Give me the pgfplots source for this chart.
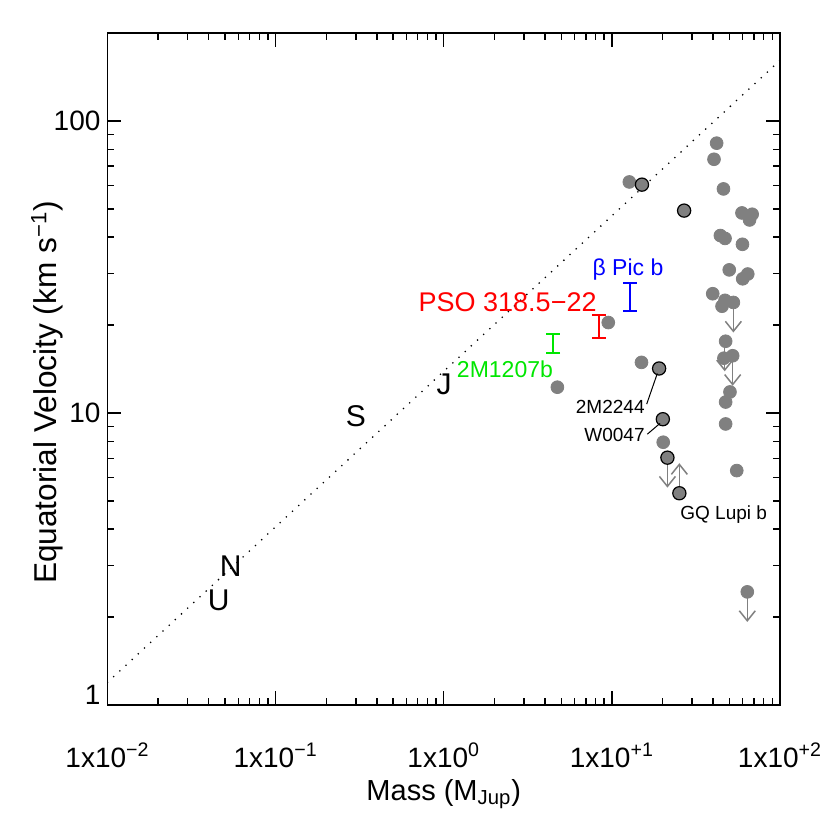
\documentclass[border=0pt]{standalone}
\usepackage{fontspec}
\setmainfont{Liberation Sans}
\usepackage{pgfplots}
\pgfplotsset{compat=1.18}
\usetikzlibrary{arrows.meta}
\definecolor{ptgray}{RGB}{128,128,128}
\definecolor{pgreen}{RGB}{0,230,0}

\begin{document}
\begin{tikzpicture}
\begin{axis}[
    scale only axis,
    clip mode=individual,
    width=336.25pt, height=336pt,
    xmode=log, ymode=log,
    xmin=0.01, xmax=100,
    ymin=1, ymax=200,
    xtick={0.01,0.1,1,10,100},
    xticklabels={1x10\textsuperscript{−2},1x10\textsuperscript{−1},1x10\textsuperscript{0},1x10\textsuperscript{+1},1x10\textsuperscript{+2}},
    minor xtick={0.02,0.03,0.04,0.05,0.06,0.07,0.08,0.09,0.2,0.3,0.4,0.5,0.6,0.7,0.8,0.9,2,3,4,5,6,7,8,9,20,30,40,50,60,70,80,90},
    ytick={1,10,100},
    yticklabels={,10,100},
    minor ytick={2,3,4,5,6,7,8,9,20,30,40,50,60,70,80,90},
    tick align=inside,
    xtick pos=both, ytick pos=both,
    major tick length=7pt, minor tick length=3.5pt,
    axis line style={line width=0.7pt},
    every tick/.style={black, line width=0.7pt},
    tick label style={font=\fontsize{14}{16}\selectfont},
    xticklabel style={anchor=base, yshift=-31pt},
    xlabel={Mass (M\textsubscript{Jup})},
    ylabel={Equatorial Velocity (km s\textsuperscript{−1})},
    xlabel style={font=\fontsize{14.5}{17}\selectfont, at={(axis description cs:0.5,-0.142)}, anchor=base},
    ylabel style={font=\fontsize{15.8}{18}\selectfont, at={(axis description cs:-0.0755,0.465)}, anchor=base},
]
\coordinate (bl) at (rel axis cs:0,0);
\coordinate (tr) at (rel axis cs:1,1);

% reference relation
\addplot[black, line width=0.9pt, line cap=round, dash pattern=on 0pt off 4.2pt]
    coordinates {(0.01,1.196) (100,161.2)};

% limits
\addplot[ptgray, line width=0.75pt, arrows={-Straight Barb[length=5pt,width=8pt]}] coordinates {(52.8,23.9) (52.8,18.86)};
\addplot[ptgray, line width=0.75pt, arrows={-Straight Barb[length=5pt,width=8pt]}] coordinates {(46.9,17.6) (46.9,13.89)};
\addplot[ptgray, line width=0.75pt, arrows={-Straight Barb[length=5pt,width=8pt]}] coordinates {(52.3,15.7) (52.3,12.39)};
\addplot[ptgray, line width=0.75pt, arrows={-Straight Barb[length=5pt,width=8pt]}] coordinates {(63.9,2.44) (63.9,1.925)};
\addplot[ptgray, line width=0.75pt, arrows={-Straight Barb[length=5pt,width=8pt]}] coordinates {(21.4,7.03) (21.4,5.55)};
\addplot[ptgray, line width=0.75pt, arrows={-Straight Barb[length=5pt,width=8pt]}] coordinates {(25.2,5.31) (25.2,6.73)};

% brown dwarfs and companions
\addplot[only marks, mark=*, mark size=3.2pt, ptgray] coordinates {
    (42.0,83.9) (40.5,73.9) (46.1,58.5) (59.4,48.4) (68.3,47.9) (65.9,45.8)
    (44.2,40.5) (47.1,39.6) (59.8,37.8) (49.9,30.9) (64.3,29.9) (60.0,28.8)
    (39.8,25.6) (47.1,24.3) (52.8,23.9) (45.2,23.2) (47.5,17.6) (46.4,15.4)
    (52.3,15.7) (50.4,11.8) (47.5,10.9) (47.5,9.17) (55.3,6.35) (63.9,2.44)
    (12.7,61.8) (9.52,20.4) (15.0,14.9) (4.74,12.25) (20.2,7.94)
};
\addplot[only marks, mark=*, mark size=3.3pt, mark options={fill=ptgray, draw=black, line width=0.6pt}] coordinates {
    (15.1,60.5) (26.9,49.3) (19.1,14.2) (20.1,9.52) (21.4,7.03) (25.2,5.31)
};

% planetary-mass objects
\addplot[blue, line width=1pt, arrows={Bar[width=7pt]-Bar[width=7pt]}] coordinates {(12.8,22.1) (12.8,28.0)};
\addplot[red, line width=1pt, arrows={Bar[width=7pt]-Bar[width=7pt]}] coordinates {(8.38,17.9) (8.38,21.8)};
\addplot[pgreen, line width=1pt, arrows={Bar[width=7pt]-Bar[width=7pt]}] coordinates {(4.48,15.9) (4.48,18.8)};

% leader lines
\addplot[black, line width=0.5pt] coordinates {(18.63,13.65) (16.11,10.72)};
\addplot[black, line width=0.5pt] coordinates {(19.33,9.21) (16.25,8.46)};

% lowest y tick label, set slightly above its tick
\node[anchor=east, font=\fontsize{14}{16}\selectfont] at ([yshift=5pt]rel axis cs:0,0) {1};

% labels
\node[font=\fontsize{15}{18}\selectfont] at (axis cs:0.0459,2.288) {U};
\node[font=\fontsize{15}{18}\selectfont] at (axis cs:0.0541,2.995) {N};
\node[font=\fontsize{15}{18}\selectfont] at (axis cs:0.2998,9.73) {S};
\node[font=\fontsize{15}{18}\selectfont] at (axis cs:1.0035,12.53) {J};
\node[blue, font=\fontsize{11.5}{14}\selectfont, anchor=base, inner sep=0pt] at (axis cs:12.47,29.6) {β Pic b};
\node[red, font=\fontsize{13.5}{16}\selectfont, anchor=base east, inner sep=0pt] at (axis cs:8.155,22.3) {PSO 318.5−22};
\node[pgreen, font=\fontsize{11.5}{14}\selectfont, anchor=base east, inner sep=0pt] at (axis cs:4.484,13.19) {2M1207b};
\node[font=\fontsize{9.5}{11}\selectfont, anchor=base east, inner sep=0pt] at (axis cs:15.74,9.96) {2M2244};
\node[font=\fontsize{9.5}{11}\selectfont, anchor=base east, inner sep=0pt] at (axis cs:15.74,8.01) {W0047};
\node[font=\fontsize{9.5}{11}\selectfont, anchor=base west, inner sep=0pt] at (axis cs:25.42,4.33) {GQ Lupi b};
\end{axis}
\pgfresetboundingbox
\path[use as bounding box] ([shift={(-53.75pt,-62.5pt)}]bl) rectangle ([shift={(25pt,16.5pt)}]tr);
\end{tikzpicture}
\end{document}
